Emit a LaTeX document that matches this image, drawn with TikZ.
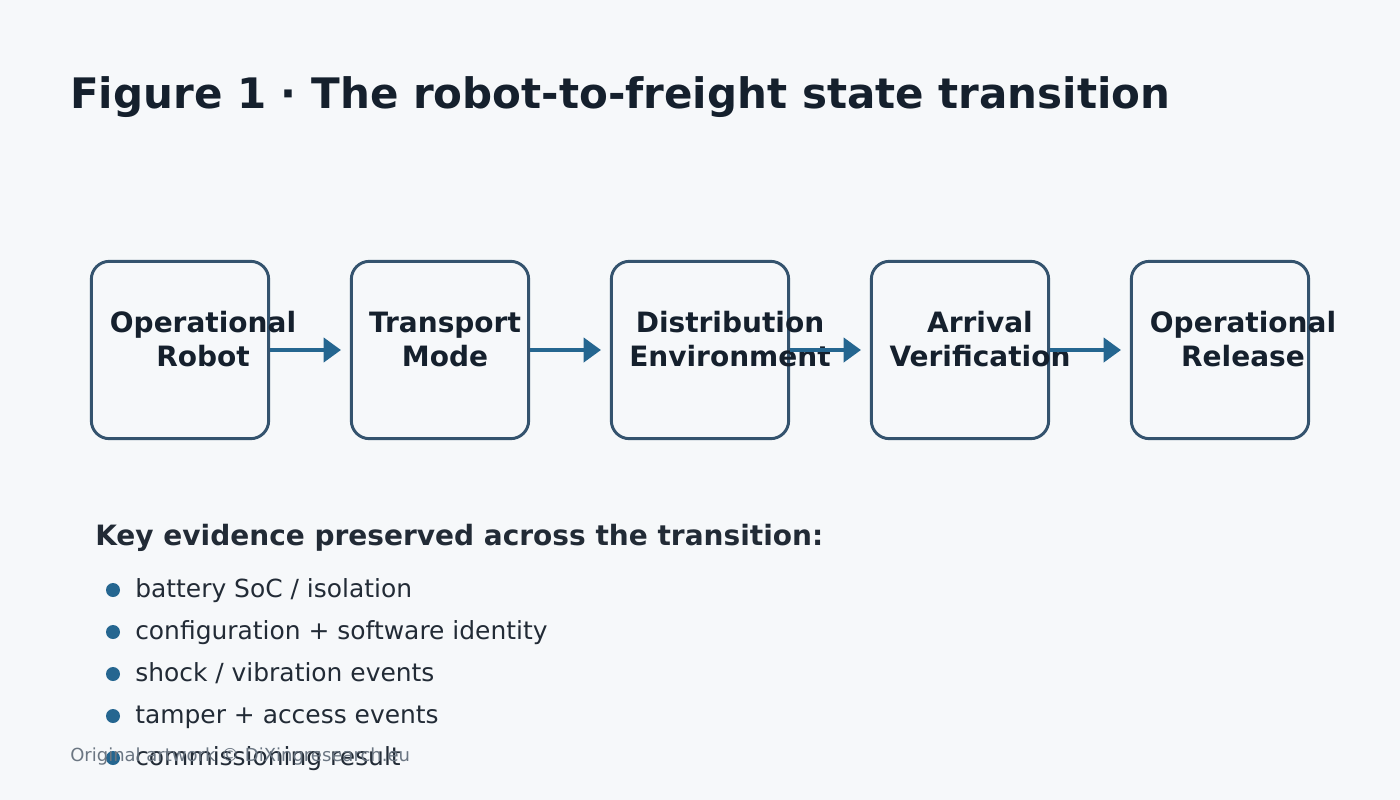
\documentclass[tikz,border=0pt]{standalone}
\usepackage{fontspec}
\setmainfont{DejaVu Sans}
\usetikzlibrary{arrows.meta, positioning}
\definecolor{pagebg}{HTML}{F6F8FA}
\definecolor{boxline}{HTML}{34536E}
\definecolor{flowblue}{HTML}{256690}
\definecolor{inkdark}{HTML}{15202D}
\definecolor{inktext}{HTML}{222B36}
\definecolor{notegray}{HTML}{6B7682}

\tikzset{
  stage/.style={draw=boxline, line width=2.2pt, rounded corners=13.5pt, minimum width=133pt, minimum height=133pt, fill=pagebg},
  stagetext/.style={text=inkdark, font=\fontsize{21}{25.5}\selectfont\bfseries, align=center},
  flow/.style={draw=flowblue, line width=3pt, -{Triangle[length=13pt,width=18pt]}},
  dot/.style={circle, fill=flowblue, inner sep=0pt, minimum size=10.5pt},
  evidence/.style={text=inktext, font=\fontsize{18.7}{21}\selectfont, anchor=west, inner sep=0pt}
}

\begin{document}
\begin{tikzpicture}[x=0.75pt, y=-0.75pt]
\useasboundingbox[fill=pagebg] (0,0) rectangle (1400,800);

% Title
\node[anchor=west, inner sep=0pt, text=inkdark, font=\fontsize{31.5}{36}\selectfont\bfseries] (title) at (70,97) {Figure 1 · The robot-to-freight state transition};

% Stages
\node[stage] (s1) at (180,350) {};
\node[stage] (s2) at (440,350) {};
\node[stage] (s3) at (700,350) {};
\node[stage] (s4) at (960,350) {};
\node[stage] (s5) at (1220,350) {};

\node[stagetext] (t1) at (203,339) {Operational\\Robot};
\node[stagetext] (t2) at (445,339) {Transport\\Mode};
\node[stagetext] (t3) at (730,339) {Distribution\\Environment};
\node[stagetext] (t4) at (980,339) {Arrival\\Verification};
\node[stagetext] (t5) at (1243,339) {Operational\\Release};

% Connectors
\coordinate (e1) at (341,350);
\coordinate (e2) at (601,350);
\coordinate (e3) at (861,350);
\coordinate (e4) at (1121,350);
\draw[flow] (s1.east) -- (e1);
\draw[flow] (s2.east) -- (e2);
\draw[flow] (s3.east) -- (e3);
\draw[flow] (s4.east) -- (e4);

% Evidence list
\node[anchor=west, inner sep=0pt, text=inktext, font=\fontsize{21}{24}\selectfont\bfseries] (head) at (95,538) {Key evidence preserved across the transition:};
\foreach \y/\item in {590/{battery SoC / isolation}, 632/{configuration + software identity}, 674/{shock / vibration events}, 716/{tamper + access events}, 758/{commissioning result}} {
  \node[dot] at (113,\y) {};
  \node[evidence, anchor=base west] at (135,\y+7) {\item};
}

% Footer
\node[anchor=west, inner sep=0pt, text=notegray, font=\fontsize{13.5}{16}\selectfont] (credit) at (70,757) {Original artwork © DiXingresearch.eu};
\end{tikzpicture}
\end{document}
